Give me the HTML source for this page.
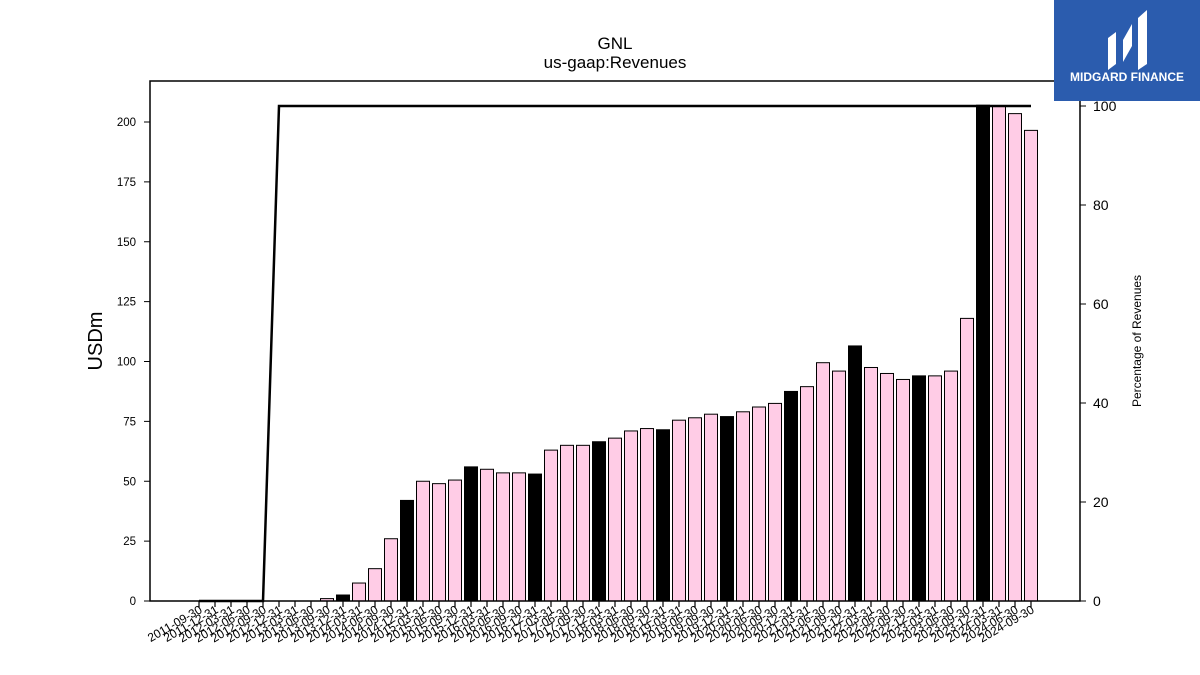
<!DOCTYPE html>
<html><head><meta charset="utf-8"><style>
body{margin:0;background:#fff;font-family:"Liberation Sans","DejaVu Sans",sans-serif}
svg{display:block}
</style></head><body>
<svg id="c" width="1200" height="675" viewBox="0 0 1200 675" xmlns="http://www.w3.org/2000/svg">
<text x="615" y="49" text-anchor="middle" font-size="17">GNL</text>
<text x="615" y="68" text-anchor="middle" font-size="17">us-gaap:Revenues</text>
<text transform="translate(102,341) rotate(-90)" text-anchor="middle" font-size="20">USDm</text>
<text transform="translate(1141,341) rotate(-90)" text-anchor="middle" font-size="12">Percentage of Revenues</text>
<g id="bars"></g>
<g id="line"></g>
<g id="axes"></g>
<rect x="150" y="81" width="930" height="520" fill="none" stroke="#000" stroke-width="1.5"/>
<g>
<rect x="1054" y="0" width="146" height="101" fill="#2b5cae"/>
<path d="M1108 70 V38 L1116 32 V64 Z M1123 62 V40 L1132 24 V46 Z M1138 70 V18 L1147 10 V64 Z" fill="#fff"/>
<text x="1127" y="81" text-anchor="middle" font-size="12" font-weight="bold" fill="#fff">MIDGARD FINANCE</text>
</g>
</svg>
<script>
const categories=["2011-09-30","2011-12-31","2012-03-31","2012-06-30","2012-09-30","2012-12-31","2013-03-31","2013-06-30","2013-09-30","2013-12-31","2014-03-31","2014-06-30","2014-09-30","2014-12-31","2015-03-31","2015-06-30","2015-09-30","2015-12-31","2016-03-31","2016-06-30","2016-09-30","2016-12-31","2017-03-31","2017-06-30","2017-09-30","2017-12-31","2018-03-31","2018-06-30","2018-09-30","2018-12-31","2019-03-31","2019-06-30","2019-09-30","2019-12-31","2020-03-31","2020-06-30","2020-09-30","2020-12-31","2021-03-31","2021-06-30","2021-09-30","2021-12-31","2022-03-31","2022-06-30","2022-09-30","2022-12-31","2023-03-31","2023-06-30","2023-09-30","2023-12-31","2024-03-31","2024-06-30","2024-09-30"];
const revenues=[0,0,0,0,0,0,0,0,1,2.5,7.5,13.5,26,42,50,49,50.5,56,55,53.5,53.5,53,63,65,65,66.5,68,71,72,71.5,75.5,76.5,78,77,79,81,82.5,87.5,89.5,99.5,96,106.5,97.5,95,92.5,94,94,96,118,207,206.5,203.5,196.5];
const percentages=[0,0,0,0,0,100,100,100,100,100,100,100,100,100,100,100,100,100,100,100,100,100,100,100,100,100,100,100,100,100,100,100,100,100,100,100,100,100,100,100,100,100,100,100,100,100,100,100,100,100,100,100,100];
const leftTicks=[0,25,50,75,100,125,150,175,200];
const rightTicks=[0,20,40,60,80,100];
const NS="http://www.w3.org/2000/svg";
const x=i=>199+i*16.0;
const yL=v=>601-v*2.395;
const yR=v=>601-v*4.95;
function mk(t,a,p){const e=document.createElementNS(NS,t);for(const k in a)e.setAttribute(k,a[k]);p.appendChild(e);return e;}
const bars=document.getElementById('bars'),axes=document.getElementById('axes'),line=document.getElementById('line');
revenues.forEach((v,i)=>{
 const black=categories[i].endsWith('12-31')&&i>=9;
 const r=mk('rect',{x:x(i)-6.5,y:yL(v),width:13,height:601-yL(v),fill:black?'#000':'#ffcce6',stroke:'#000','stroke-width':1},bars);
 
 
 mk('line',{x1:x(i),x2:x(i),y1:601,y2:607,stroke:'#000','stroke-width':1.2},axes);
 const t=mk('text',{x:x(i)+4,y:612,'text-anchor':'end','font-size':12,transform:`rotate(-30 ${x(i)+4} 612)`},axes);
 t.textContent=categories[i];
 
 
});
const p=mk('polyline',{points:percentages.map((v,i)=>x(i)+','+yR(v)).join(' '),fill:'none',stroke:'#000','stroke-width':2.5},line);


leftTicks.forEach(v=>{
 mk('line',{x1:144,x2:150,y1:yL(v),y2:yL(v),stroke:'#000'},axes);
 const t=mk('text',{x:136,y:yL(v)+4,'text-anchor':'end','font-size':11.5},axes);
 t.textContent=v;
 
 
});
rightTicks.forEach(v=>{
 mk('line',{x1:1080,x2:1086,y1:yR(v),y2:yR(v),stroke:'#000'},axes);
 const t=mk('text',{x:1093,y:yR(v)+5,'font-size':14},axes);
 t.textContent=v;
 
 
});
</script>
</body></html>
